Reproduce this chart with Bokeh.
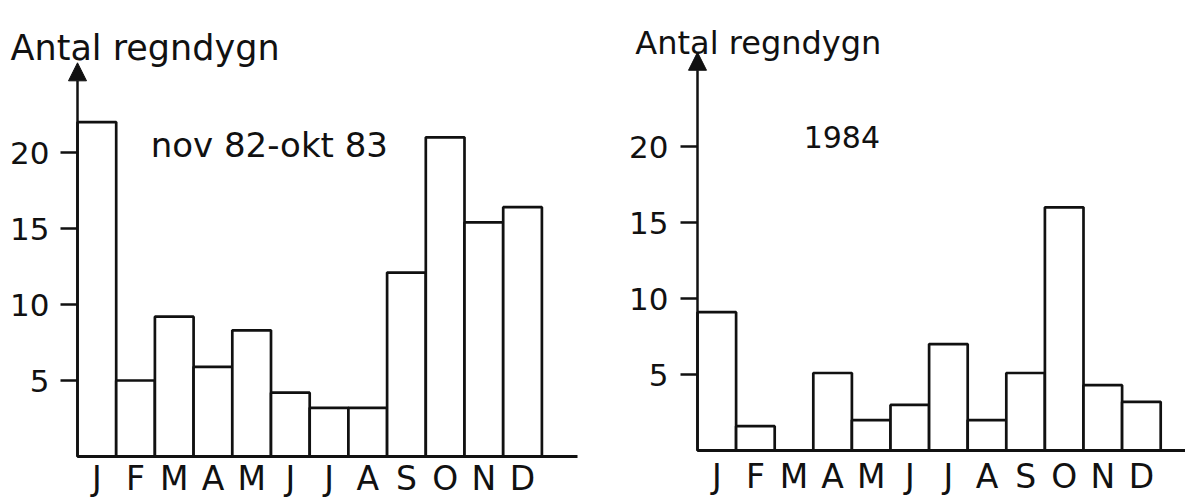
from bokeh.plotting import figure
from bokeh.models import Range1d, LinearAxis, FixedTicker, Label, Arrow, NormalHead
from bokeh.layouts import row
from bokeh.embed import file_html
from bokeh.resources import INLINE

# ---- data ----
months = ["J", "F", "M", "A", "M", "J", "J", "A", "S", "O", "N", "D"]
rain_nov82_okt83 = [22, 5, 9.2, 5.9, 8.3, 4.2, 3.2, 3.2, 12.1, 21, 15.4, 16.4]
rain_1984 = [9.1, 1.6, 0, 5.1, 2.0, 3.0, 7.0, 2.0, 5.1, 16, 4.3, 3.2]
y_ticks = [5, 10, 15, 20]
y_label = "Antal regndygn"
title_left = "nov 82-okt 83"
title_right = "1984"

FONT = "DejaVu Sans"
INK = "#111111"
H = 500
centers = [i + 0.5 for i in range(len(months))]


def panel(values, title, width, x_rng, y_rng, base_end,
          ylab_pos, ylab_size, arrow_top, title_pos, title_size,
          tick_font, tick_standoff, month_font, month_standoff):
    p = figure(width=width, height=H,
               x_range=Range1d(*x_rng), y_range=Range1d(*y_rng),
               output_backend="svg", toolbar_location=None,
               x_axis_type=None, y_axis_type=None,
               min_border=0)
    p.outline_line_color = None
    p.xgrid.visible = False
    p.ygrid.visible = False
    p.background_fill_color = "white"
    p.border_fill_color = "white"

    # y axis (ticks + labels); its line is drawn by the arrow
    ya = LinearAxis(ticker=FixedTicker(ticks=y_ticks), fixed_location=0)
    ya.axis_line_color = None
    ya.major_tick_out = 17
    ya.major_tick_in = 0
    ya.major_tick_line_width = 2.5
    ya.major_tick_line_color = INK
    ya.minor_tick_line_color = None
    ya.major_label_text_font = FONT
    ya.major_label_text_font_size = tick_font
    ya.major_label_text_color = INK
    ya.major_label_standoff = tick_standoff
    p.add_layout(ya, "left")

    # x axis with month letters
    xa = LinearAxis(ticker=FixedTicker(ticks=centers), fixed_location=0,
                    bounds=(0, base_end))
    xa.major_label_overrides = {c: m for c, m in zip(centers, months)}
    xa.axis_line_width = 3
    xa.axis_line_color = INK
    xa.major_tick_line_color = None
    xa.minor_tick_line_color = None
    xa.major_tick_out = 0
    xa.major_tick_in = 0
    xa.major_label_text_font = FONT
    xa.major_label_text_font_size = month_font
    xa.major_label_text_color = INK
    xa.major_label_standoff = month_standoff
    p.add_layout(xa, "below")

    # bars
    p.vbar(x=centers, top=values, width=1, bottom=0,
           fill_color="white", line_color=INK, line_width=2.7)

    # arrow y-axis
    p.add_layout(Arrow(end=NormalHead(size=18, fill_color=INK, line_color=INK, line_width=1),
                       x_start=0, y_start=0, x_end=0, y_end=arrow_top,
                       line_color=INK, line_width=2.5))

    p.add_layout(Label(x=ylab_pos[0], y=ylab_pos[1], text=y_label,
                       text_font=FONT, text_font_size=ylab_size,
                       text_color=INK, text_baseline="alphabetic"))
    p.add_layout(Label(x=title_pos[0], y=title_pos[1], text=title,
                       text_font=FONT, text_font_size=title_size,
                       text_color=INK, text_baseline="alphabetic"))
    return p


# left panel: y-axis at page x=77 (38.7 px / month), zero at page y=456 (15.2 px / day)
left = panel(rain_nov82_okt83, title_left, width=598,
             x_rng=(-77 / 38.7, (598 - 77) / 38.7),
             y_rng=((456 - H) / 15.2, 456 / 15.2), base_end=12.93,
             ylab_pos=(-1.73, 26.9), ylab_size="35px", arrow_top=25.9,
             title_pos=(1.89, 20.5), title_size="34px",
             tick_font="31px", tick_standoff=11, month_font="33px", month_standoff=2)

# right panel: y-axis at page x=697 (38.6 px / month), zero at page y=450
right = panel(rain_1984, title_right, width=587,
              x_rng=((598 - 697) / 38.6, (1185 - 697) / 38.6),
              y_rng=((450 - H) / 15.2, 450 / 15.2), base_end=12.64,
              ylab_pos=(-1.61, 26.8), ylab_size="32px", arrow_top=26.2,
              title_pos=(2.75, 20.6), title_size="30px",
              tick_font="31px", tick_standoff=12, month_font="33px", month_standoff=6)

layout = row(left, right)
open("out.html", "w").write(file_html(layout, INLINE))
